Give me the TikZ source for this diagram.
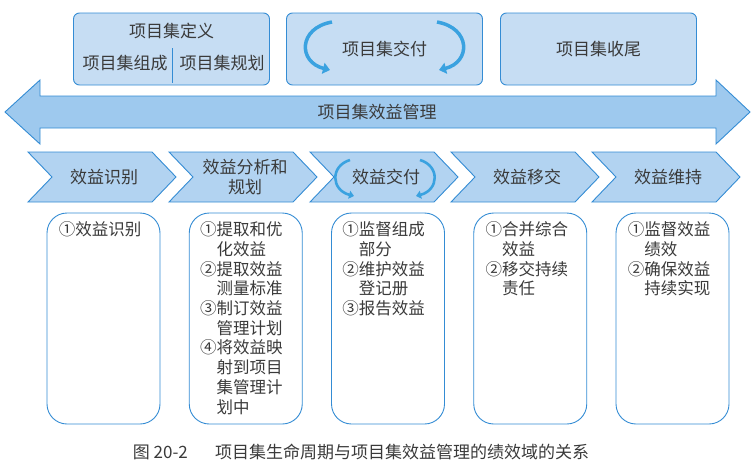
\documentclass[tikz,border=0pt]{standalone}
\usepackage{fontspec}
\setmainfont{Noto Sans CJK SC}
\usepackage{xcolor}
\usetikzlibrary{arrows.meta,positioning,calc}

\definecolor{edgeblue}{RGB}{52,140,212}
\definecolor{boxfill}{RGB}{198,221,243}
\definecolor{bandfill}{RGB}{158,201,238}
\definecolor{chevfill}{RGB}{178,211,241}
\definecolor{swirl}{RGB}{58,162,224}
\definecolor{inktext}{RGB}{58,58,58}

\newcommand{\contline}{\phantom{①}}

\begin{document}
\begin{tikzpicture}[
  x=1pt,y=1pt,
  phase/.style={draw=edgeblue, fill=boxfill, line width=0.9pt, rounded corners=6pt,
    minimum width=196pt, minimum height=72pt},
  band/.style={draw=edgeblue, fill=bandfill, line width=0.9pt},
  chev/.style={draw=edgeblue, fill=chevfill, line width=0.9pt},
  duty/.style={draw=edgeblue, fill=white, line width=0.9pt, rounded corners=20pt,
    minimum width=113pt, minimum height=211pt},
  lbl/.style={font=\fontsize{17}{20}\selectfont, text=inktext, inner sep=0pt},
  items/.style={font=\fontsize{16.5}{19.7}\selectfont, text=inktext, align=left,
    anchor=north west, inner sep=0pt},
  swirlarrow/.style={draw=swirl, line width=3.5pt, -{Triangle[length=7pt,width=11pt]}},
  smallswirl/.style={draw=swirl, line width=2.6pt, -{Triangle[length=5pt,width=8pt]}}
]
\useasboundingbox (0,0) rectangle (755,-471);

% programme phases
\node[phase] (define) at (171.5,-49) {};
\node[lbl] (defineT) at (171.5,-31) {项目集定义};
\node[lbl] (formation) at (125,-63) {项目集组成};
\node[lbl] (planning) at (222,-63) {项目集规划};
\draw[edgeblue, line width=0.9pt] (172,-48) -- (172,-83);

\node[phase, lbl] (deliver) at (384.5,-49) {项目集交付};
\draw[swirlarrow] (332,-22) .. controls (298,-28) and (298,-62) .. (330,-70);
\draw[swirlarrow] (437,-22) .. controls (471,-28) and (471,-62) .. (439,-70);

\node[phase, lbl] (closure) at (598.5,-49) {项目集收尾};

% benefits management band
\draw[band] (5,-112) -- (40,-80) -- (40,-96) -- (716,-96) -- (716,-80)
  -- (750,-112) -- (716,-144) -- (716,-128) -- (40,-128) -- (40,-144) -- cycle;
\node[lbl] (benefit) at (377,-112) {项目集效益管理};

% benefit stages
\foreach \n [count=\i from 0] in {效益识别,{效益分析和\\规划},效益交付,效益移交,效益维持}{
  \pgfmathsetmacro\xs{28+141*\i}
  \draw[chev] (\xs,-152) -- ++(124,0) -- ++(24,-25) -- ++(-24,-25) -- ++(-124,0)
    -- ++(24,25) -- cycle;
  \node[lbl, align=center] (stage\i) at (\xs+76,-177) {\n};
}
\draw[smallswirl] (350,-160) .. controls (330,-166) and (331,-190) .. (354,-196);
\draw[smallswirl] (420,-160) .. controls (440,-166) and (439,-190) .. (416,-196);

% activities
\foreach \i in {0,...,4}{
  \node[duty] (duty\i) at (103.5+142.25*\i,-318.5) {};
}
\node[items] (act0) at ($(duty0.north west)+(12,-9)$) {①效益识别};
\node[items] (act1) at ($(duty1.north west)+(11,-9)$) {①提取和优\\\contline 化效益\\②提取效益\\\contline 测量标准\\③制订效益\\\contline 管理计划\\④将效益映\\\contline 射到项目\\\contline 集管理计\\\contline 划中};
\node[items] (act2) at ($(duty2.north west)+(11,-9)$) {①监督组成\\\contline 部分\\②维护效益\\\contline 登记册\\③报告效益};
\node[items] (act3) at ($(duty3.north west)+(12,-9)$) {①合并综合\\\contline 效益\\②移交持续\\\contline 责任};
\node[items] (act4) at ($(duty4.north west)+(12,-9)$) {①监督效益\\\contline 绩效\\②确保效益\\\contline 持续实现};

\node[lbl] (caption) at (361,-452) {图 20-2\hspace{1.6em}项目集生命周期与项目集效益管理的绩效域的关系};
\end{tikzpicture}
\end{document}
